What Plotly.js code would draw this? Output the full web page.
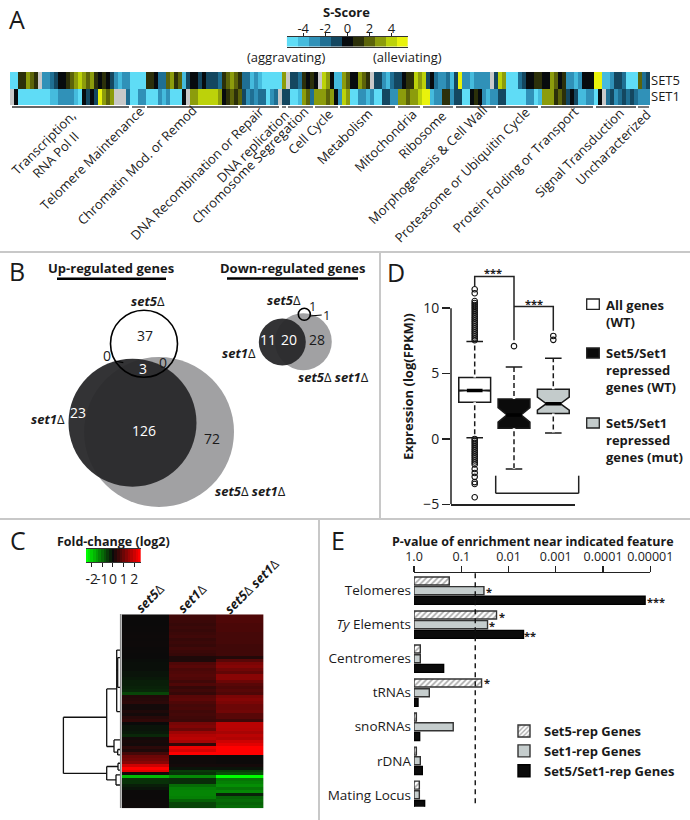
<!DOCTYPE html>
<html><head><meta charset="utf-8">
<script src="https://cdn.plot.ly/plotly-3.0.1.min.js"></script>
<style>html,body{margin:0;padding:0;background:#fff;overflow:hidden}#g{width:690px;height:820px}</style>
</head><body><div id="g"></div>
<script>
// ---------- Panel A data ----------
const set5Scores=[-5,-5,1,1,3,2,1,null,-3,-3,-2,-1,0,0,1,2,3,4,3,2,3,1,0,1,0,-1,-3,-4,-3,-3,-5,-5,-5,-5,1,1,0,-2,-2,2,3,1,2,-4,-1,0,0,-1,0,-1,-1,-1,-2,1,2,3,2,1,-2,-2,-4,-3,-4,-5,-5,-5,-5,-5,3,null,-1,-1,-2,1,0,1,0,null,4,3,0,-4,-4,
3,2,0,0,3,2,1,null,-1,-1,-3,-4,-2,-1,-1,0,1,1,4,3,4,-1,0,-2,-3,-3,-2,-4,-1,5,-3,-3,-4,-3,-3,-3,-3,null,-1,4,3,-5,-5,-5,-2,-1,0,0,1,1,0,0,3,2,0,1,-3,-3,-4,-3,0,0,0,5,5,-4,-4,-3,-1,-1,-2,-5,-5,-5,2,-2,-1];
const set1Scores=[null,0,-5,-5,-5,-5,-5,-5,-5,-5,-4,-4,-3,-3,-3,-3,-4,-5,0,-1,0,-1,5,3,2,3,null,null,null,-2,-5,-5,-3,-3,-5,-5,-5,-3,-4,-3,-5,-5,-5,0,null,3,3,4,4,4,4,4,3,0,1,2,1,2,-1,-3,-2,-3,-2,-2,-5,-3,-2,null,-1,-1,-5,-5,-4,3,2,-2,3,3,3,2,3,0,-3,
4,3,-5,-5,-3,-3,-4,-3,-5,-5,-1,-1,-3,-3,3,3,2,3,3,4,5,5,-4,-3,-3,1,1,-3,-1,-1,-5,-5,0,1,0,-3,-4,-3,-3,-1,-1,-5,-5,-5,-5,-5,-3,-3,-5,-4,3,3,3,1,2,1,-1,0,-1,-4,-4,-3,-3,-5,0,null,-2,-1,-3,-2,-1,-2,-1,-2,-3,-3,-3];
const scoreRows=['SET1','SET5'];
const scoreScaleValues=[-5,-4,-3,-2,-1,0,1,2,3,4,5];
const scoreTicks=[-4,-2,0,2,4];
const scoreColors=['#5fdcf6','#45bbdd','#3091b8','#1f6f93','#144760','#070b0e','#2c300a','#5c640a','#8c9c0c','#bcd20a','#e9f20c'];
const groupLabels=[['Transcription,<br>RNA Pol II',50,149],['Telomere Maintenance',92,158],['Chromatin Mod. or Remod',137,165],['DNA Recombination or Repair',197,173],['DNA replication',253,146],['Chromosome Segregation',250,165],['Cell Cycle',310,132],['Metabolism',344,137],['Mitochondria',385,141],['Ribosome',422,135],['Morphogenesis &amp; Cell Wall',427,165],['Proteasome or Ubiquitin Cycle',462,175],['Protein Folding or Transport',515,170],['Signal Transduction',579,153],['Uncharacterized',613,147]];
const groupBrackets=[[12,129],[132,145],[147,238],[240,279],[282,286],[288,313],[315,338],[340,395],[398,420],[423,453],[456,496],[498,538],[541,593],[596,636],[638,649]];

// ---------- Panel B data ----------
const vennX=[159,303.3], vennY=[432,341.7], vennSize=[150,57];
const set1X=[132.5,282.3], set1Y=[422.7,342], set1Size=[128,47];
const set5X=[144,304.3], set5Y=[343.7,314.3], set5Size=[67,12];

// ---------- Panel C data ----------
const fcSet5=[.02,.02,.01,.01,.02,.02,.03,.04,.03,.04,.04,.02,.02,.01,.01,-.03,-.05,-.05,-.05,-.1,-.1,-.15,-.2,-.2,-.25,-.3,-.6,.25,.3,.35,.1,.1,.2,.1,.3,.4,0,-.1,-.1,-.15,-.3,.1,.15,.1,.35,.2,.6,1,1.1,1.3,2,2.5,2.2,.1,-1.8,-.4,-.4,-.2,-.1,.02,.02,.02,.03,.04,.04];
const fcSet1=[.55,.55,.5,.45,.5,.45,.5,.55,.45,.5,.45,.55,.5,.45,.2,.2,.7,.8,.65,.7,.75,.7,.55,.7,.45,.55,.45,.8,.85,.7,.6,.65,.55,.6,.55,.5,1.1,1.2,1,1.5,1.7,1.8,1.6,.4,2.3,2.1,2.5,.05,.05,.05,.1,-.1,-.5,-.4,-1.3,-.35,-.35,-1,-1.2,-1.25,-1.25,-1.2,-.9,-.6,-.6];
const fcDouble=[.7,.7,.7,.65,.65,.65,.6,.6,.6,.6,.55,.55,.55,.55,.25,.8,1.15,1.25,1.05,.9,1.3,1.3,1,.8,.7,.8,.7,1.15,1.25,1.15,1,1,1.05,.8,.8,.55,1.8,1.8,1.75,1.6,1.8,1.7,2,2.2,2.5,2.5,2.5,.02,.02,.02,.1,-.1,-.5,-.7,-2.5,-1.1,-1.2,-1.35,-1.1,-1.3,-.25,-.9,-1,-.9,-1];
const fcColumns=['set5','set1','set5 set1'];
const fcScaleValues=[-2.5,-2.25,-2,-1.75,-1.5,-1.25,-1,-.75,-.5,-.25,0,.25,.5,.75,1,1.25,1.5,1.75,2,2.25,2.5];
const fcTicks=[-2,-1,0,1,2];
const dendroDist=[57.3,14,null,57.3,57.3,null,57.3,14,null,14,14,null,14,4,null,14,6.7,null,4,4,null,4,.7,null,4,.7,null,4,3,null,3,3,null,3,.7,null,3,.7,null,6.7,6.7,null,6.7,.7,null,6.7,3,null,3,3,null,3,.7,null,3,.7,null,14,14,null,14,2.7,null,14,4.7,null,2.7,2.7,null,2.7,.7,null,2.7,.7,null,4.7,4.7,null,4.7,.7,null,4.7,.7];
const dendroRow=[34,34,null,34,52.8,null,52.8,52.8,null,24.5,43.8,null,24.5,24.5,null,43.8,43.8,null,11.5,32.1,null,32.1,32.1,null,11.5,11.5,null,18.2,18.2,null,14,24,null,14,14,null,24,24,null,41.6,45.7,null,41.6,41.6,null,45.7,45.7,null,44.8,46.6,null,44.8,44.8,null,46.6,46.6,null,50.5,55,null,50.5,50.5,null,55,55,null,49.4,51.7,null,49.4,49.4,null,51.7,51.7,null,53.3,56.7,null,53.3,53.3,null,56.7,56.7];

// ---------- Panel D data ----------
const boxNames=['All genes (WT)','Set5/Set1 repressed genes (WT)','Set5/Set1 repressed genes (mut)'];
const boxPos=[0,1,2];
const boxQ1=[2.8,.82,1.94], boxMedian=[3.7,1.84,2.7], boxQ3=[4.7,3.06,3.8];
const boxLow=[.1,-2.3,.46], boxHigh=[7.45,5.5,6.17], boxNotch=[.04,.56,.5];
const boxFill=['#ffffff','#0b0b0b','#c3cbcb'];
const outliersAll=[7.55,7.7,7.85,8,8.15,8.3,8.45,8.6,8.75,8.9,9.05,9.2,9.35,9.5,9.65,9.8,9.95,10.1,10.25,10.4,10.55,11.15,11.45,0,-.15,-.3,-.45,-.6,-.75,-.9,-1.05,-1.2,-1.35,-1.5,-1.65,-1.8,-1.95,-2.3,-2.6,-2.9,-3.3,-3.45,-4.46];
const outliersWT=[7.1];
const outliersMut=[7.88,7.58];
const sigTopX=[0,0,1,1], sigTopY=[11.7,12.42,12.42,7.55];
const sigSideX=[1,2,2], sigSideY=[10.13,10.13,8.27];

// ---------- Panel E data ----------
const features=['Telomeres','<i>Ty</i> Elements','Centromeres','tRNAs','snoRNAs','rDNA','Mating Locus'];
const negLogSet5=[.746,1.746,.134,1.43,.05,.05,.113];
const negLogSet1=[1.48,1.556,.134,.324,.83,.134,.113];
const negLogBoth=[4.89,2.317,.627,.085,.12,.176,.225];
const pTickVals=[0,1,2,3,4,5];
const pTickText=['1.0','0.1','0.01','0.001','0.0001','0.00001'];
const pThreshold=1.296;

// ---------- helpers ----------
const F='"Open Sans", sans-serif', INK='#1a1a1a';
const X=p=>p/690, Y=p=>1-p/820;
const xd=(a,b)=>[a/690,b/690], yd=(top,bot)=>[1-bot/820,1-top/820];
const off={visible:false,fixedrange:true};
const ann=(text,x,y,size,o)=>Object.assign({text,x:X(x),y:Y(y),xref:'paper',yref:'paper',showarrow:false,xanchor:'center',yanchor:'middle',font:{family:F,size,color:INK}},o||{});
const line=(x0,y0,x1,y1,color,width)=>({type:'line',xref:'paper',yref:'paper',x0:X(x0),x1:X(x1),y0:Y(y0),y1:Y(y1),line:{color,width}});
const scoreScale=scoreColors.map((c,i)=>[i/10,c]);
const fcScale=[[0,'#00ff00'],[.5,'#0a0a0a'],[1,'#ff0000']];
const set5D='<b><i>set5</i></b>Δ', set1D='<b><i>set1</i></b>Δ';
const white=s=>({font:{family:F,size:s,color:'#fff'}});

// ---------- traces ----------
const traces=[
 {type:'heatmap',xaxis:'x',yaxis:'y',z:[set1Scores,set5Scores],y:scoreRows,zmin:-5,zmax:5,colorscale:scoreScale,showscale:false,xgap:0,showlegend:false},
 {type:'heatmap',xaxis:'x2',yaxis:'y2',z:[scoreScaleValues],x:scoreScaleValues,zmin:-5,zmax:5,colorscale:scoreScale,showscale:false,showlegend:false},
 {type:'scatter',mode:'markers',xaxis:'x3',yaxis:'y3',x:vennX,y:vennY,marker:{size:vennSize,opacity:1,color:'#a1a1a3',line:{width:0}},showlegend:false},
 {type:'scatter',mode:'markers',xaxis:'x3',yaxis:'y3',x:set1X,y:set1Y,marker:{size:set1Size,opacity:1,color:'rgba(40,40,42,0.95)',line:{width:0}},showlegend:false},
 {type:'scatter',mode:'markers',xaxis:'x3',yaxis:'y3',x:set5X,y:set5Y,marker:{size:set5Size,opacity:1,color:'rgba(0,0,0,0)',line:{width:1.6,color:'#000'}},showlegend:false}
];
boxPos.forEach((p,i)=>traces.push({type:'box',xaxis:'x4',yaxis:'y4',orientation:'v',x:[p],q1:[boxQ1[i]],median:[boxMedian[i]],q3:[boxQ3[i]],lowerfence:[boxLow[i]],upperfence:[boxHigh[i]],notchspan:[boxNotch[i]],notched:true,notchwidth:.28,width:.81,whiskerwidth:.52,boxpoints:false,fillcolor:boxFill[i],line:{color:'#1a1a1a',width:1.5},showlegend:false,name:boxNames[i]}));
// dashed look of the whiskers, thick medians, outliers, significance brackets
const wx=[],wy=[],mx=[],my=[];
boxPos.forEach((p,i)=>{wx.push(p,p,null,p,p,null);wy.push(boxQ3[i],boxHigh[i],null,boxQ1[i],boxLow[i],null);mx.push(p-.2,p+.2,null);my.push(boxMedian[i],boxMedian[i],null);});
traces.push({type:'scatter',mode:'lines',xaxis:'x4',yaxis:'y4',x:wx,y:wy,line:{color:'#fff',width:2.6,dash:'3px,5px'},showlegend:false});
traces.push({type:'scatter',mode:'lines',xaxis:'x4',yaxis:'y4',x:mx,y:my,line:{color:'#000',width:3.5},showlegend:false});
traces.push({type:'scatter',mode:'markers',xaxis:'x4',yaxis:'y4',x:outliersAll.map(()=>0).concat(outliersWT.map(()=>1),outliersMut.map(()=>2)),y:outliersAll.concat(outliersWT,outliersMut),marker:{symbol:'circle-open',size:5.5,opacity:1,color:'#111',line:{width:1.1,color:'#111'}},showlegend:false});
traces.push({type:'scatter',mode:'lines',xaxis:'x4',yaxis:'y4',x:sigTopX,y:sigTopY,line:{color:'#222',width:1.5},showlegend:false});
traces.push({type:'scatter',mode:'lines',xaxis:'x4',yaxis:'y4',x:sigSideX,y:sigSideY,line:{color:'#222',width:1.5},showlegend:false});
// panel C
traces.push({type:'heatmap',xaxis:'x5',yaxis:'y5',z:[fcScaleValues],x:fcScaleValues,zmin:-2.5,zmax:2.5,colorscale:fcScale,showscale:false});
traces.push({type:'heatmap',xaxis:'x6',yaxis:'y6',z:fcSet5.map((v,i)=>[v,fcSet1[i],fcDouble[i]]),zmin:-2.5,zmax:2.5,colorscale:fcScale,showscale:false});
traces.push({type:'scatter',mode:'lines',xaxis:'x7',yaxis:'y7',x:dendroDist,y:dendroRow,connectgaps:false,line:{color:'#111',width:1.3},showlegend:false});
// panel E
const barLine=c=>({color:c,width:1.4});
traces.push({type:'bar',orientation:'h',xaxis:'x8',yaxis:'y8',name:'Set5-rep Genes',y:features,x:negLogSet5,marker:{color:'#fff',pattern:{shape:'/',bgcolor:'#ffffff',fgcolor:'#a8a8a8',size:4,solidity:.4},line:barLine('#333')}});
traces.push({type:'bar',orientation:'h',xaxis:'x8',yaxis:'y8',name:'Set1-rep Genes',y:features,x:negLogSet1,marker:{color:'#c5cdcd',line:barLine('#333')}});
traces.push({type:'bar',orientation:'h',xaxis:'x8',yaxis:'y8',name:'Set5/Set1-rep Genes',y:features,x:negLogBoth,marker:{color:'#0b0b0b',line:barLine('#000')}});

// ---------- shapes ----------
const shapes=[
 {type:'rect',xref:'paper',yref:'paper',layer:'below',x0:X(10),x1:X(650),y0:Y(105),y1:Y(72),fillcolor:'#c9c9c9',line:{width:0}},
 line(0,252,690,252,'#c8c8c8',2),line(380,252,380,519,'#c8c8c8',2),line(0,519,690,519,'#c8c8c8',2),line(319,519,319,820,'#c8c8c8',2),
 line(57,278.7,166,278.7,'#000',2.6),line(227,278.5,358,278.5,'#000',2.6),
 line(115,361,123.3,362.7,'#000',1.2),line(310,316,321.7,315,'#000',1.2),
 line(495.7,475.7,495.7,493.3,'#222',1.5),line(495.7,493.3,578.7,493.3,'#222',1.5),line(578.7,475.7,578.7,493.3,'#222',1.5),
 line(120.7,614,120.7,808,'#8c8c8c',1.6),
 {type:'line',xref:'paper',yref:'y4',x0:X(451),x1:X(451),y0:-5,y1:10,line:{color:'#222',width:1.5}},
 {type:'rect',xref:'paper',yref:'paper',x0:X(586.7),x1:X(599.3),y0:Y(309.3),y1:Y(299),fillcolor:'#fff',line:{color:'#222',width:1.3}},
 {type:'rect',xref:'paper',yref:'paper',x0:X(586.7),x1:X(599.3),y0:Y(358),y1:Y(348),fillcolor:'#0b0b0b',line:{color:'#222',width:1.3}},
 {type:'rect',xref:'paper',yref:'paper',x0:X(586.7),x1:X(599.3),y0:Y(428),y1:Y(418),fillcolor:'#c3cbcb',line:{color:'#222',width:1.3}},
 {type:'line',xref:'x8',yref:'paper',x0:pThreshold,x1:pThreshold,y0:Y(573.3),y1:Y(806.7),line:{color:'#111',width:1.4,dash:'5px,4px'}}
];
groupBrackets.forEach(b=>shapes.push(line(b[0],107,b[1],107,'#333',1.3)));

// ---------- annotations ----------
const left={xanchor:'left',align:'left'};
const annotations=[
 ann('A',17,19,25),ann('B',17,271,25),ann('C',18,540,25),ann('D',396,272,25),ann('E',338,540,25),
 ann('<b>S-Score</b>',347,12,13),ann('(aggravating)',286,57,13),ann('(alleviating)',407.7,57,13),
 ann('<b>Up-regulated genes</b>',111,268,13),ann('<b>Down-regulated genes</b>',292.7,268,13),
 ann(set5D,148,301,13),ann('37',145,336,14),ann('3',143,368.3,14,white(14)),ann('0',106.7,356,14),ann('0',163.3,362.3,14),
 ann('23',78.3,412.7,14,white(14)),ann('126',144,430,14,white(14)),ann('72',212.3,438.3,14),
 ann(set1D,47.7,419,13),ann(set5D+' '+set1D,250.7,491,13),
 ann(set5D,284.3,300,13),ann('1',312.3,306,13),ann('1',326.7,315,13),
 ann('11',267.7,340,14,white(14)),ann('20',289.3,340,14,white(14)),ann('28',317.3,340,14),
 ann(set1D,239,353.3,13),ann(set5D+' '+set1D,333.7,377.3,13),
 ann('<b>***</b>',492.7,272,11),ann('<b>***</b>',534.3,303,11),
 ann('<b>All genes<br>(WT)</b>',604,313,13,left),ann('<b>Set5/Set1<br>repressed<br>genes (WT)</b>',604,370,13,left),ann('<b>Set5/Set1<br>repressed<br>genes (mut)</b>',604,440,13,left),
 ann('<b>Fold-change (log2)</b>',113.3,541,12.5),
 ann(set5D,150,598,13,{textangle:-45}),ann(set1D,192.3,598,13,{textangle:-45}),ann(set5D+' '+set1D,251.7,585.7,13,{textangle:-45}),
 ann('<b>P-value of enrichment near indicated feature</b>',533.3,541.5,12.5),
 ann('<b>*</b>',489.3,591,11),ann('<b>***</b>',655.7,601,11),ann('<b>*</b>',501.7,616,11),ann('<b>*</b>',492.3,625,11),ann('<b>**</b>',530,635,11),ann('<b>*</b>',487,682.5,11)
];
groupLabels.forEach(g=>annotations.push(ann(g[0],g[1],g[2],13,{textangle:-45})));

// ---------- layout ----------
const layout={
 width:690,height:820,margin:{l:0,r:0,t:0,b:0},paper_bgcolor:'#fff',plot_bgcolor:'rgba(0,0,0,0)',font:{family:F,color:INK},
 barmode:'group',bargap:.147,bargroupgap:.17,boxmode:'overlay',shapes,annotations,
 showlegend:true,
 legend:{x:X(504),y:Y(716),xanchor:'left',yanchor:'top',bgcolor:'rgba(0,0,0,0)',borderwidth:0,traceorder:'normal',itemwidth:30,font:{family:F,size:13,weight:700,color:INK}},
 xaxis:Object.assign({},off,{domain:xd(10,650),range:[-.5,159.5]}),
 yaxis:{domain:yd(72,105),anchor:'x',side:'right',type:'category',showline:false,showgrid:false,zeroline:false,ticks:'',ticklen:0,tickfont:{family:F,size:13,color:INK},fixedrange:true,range:[-.5,1.5]},
 xaxis2:{domain:xd(286.7,408),anchor:'y2',side:'top',range:[-5.5,5.5],tickvals:scoreTicks,ticktext:scoreTicks.map(String),ticks:'outside',ticklen:3,tickwidth:1,tickcolor:'#222',tickangle:0,ticklabelstandoff:-5,tickfont:{family:F,size:13,color:INK},showline:true,mirror:true,linecolor:'#333',linewidth:1,showgrid:false,zeroline:false,fixedrange:true},
 yaxis2:Object.assign({},off,{domain:yd(36.7,46.7),anchor:'x2'}),
 xaxis3:Object.assign({},off,{domain:xd(0,380),range:[0,380],anchor:'y3'}),
 yaxis3:Object.assign({},off,{domain:yd(252,519),range:[519,252],anchor:'x3'}),
 xaxis4:{domain:xd(451,575),range:[-.603,2.552],anchor:'y4',showline:true,linecolor:'#222',linewidth:1.5,ticks:'',showticklabels:false,showgrid:false,zeroline:false,fixedrange:true},
 yaxis4:{domain:yd(269,504.3),range:[-5,13],anchor:'x4',tickvals:[-5,0,5,10],ticktext:['−5','0','5','10'],ticks:'outside',ticklen:8,tickwidth:1.5,tickcolor:'#222',tickfont:{family:F,size:14,color:INK},showline:false,showgrid:false,zeroline:false,fixedrange:true,title:{text:'<b>Expression (log(FPKM))</b>',font:{family:F,size:13,color:INK},standoff:6}},
 xaxis5:{domain:xd(86,140.7),range:[-2.53,2.6],anchor:'y5',tickvals:fcTicks,ticktext:fcTicks.map(String),ticks:'outside',ticklen:4,tickwidth:1,tickcolor:'#222',tickangle:0,tickfont:{family:F,size:14,color:INK},showline:true,mirror:true,linecolor:'#333',linewidth:1,showgrid:false,zeroline:false,fixedrange:true},
 yaxis5:Object.assign({},off,{domain:yd(549,562.3),anchor:'x5'}),
 xaxis6:Object.assign({},off,{domain:xd(121.7,263.5),range:[-.5,2.5],anchor:'y6'}),
 yaxis6:Object.assign({},off,{domain:yd(614.3,808.3),range:[64.5,-.5],anchor:'x6'}),
 xaxis7:Object.assign({},off,{domain:xd(60.7,120.7),range:[60,0],anchor:'y7'}),
 yaxis7:Object.assign({},off,{domain:yd(614.3,808.3),range:[64.5,-.5],anchor:'x7'}),
 xaxis8:{domain:xd(414,650.3),range:[0,5],anchor:'y8',side:'top',tickvals:pTickVals,ticktext:pTickText,ticks:'outside',ticklen:6,tickwidth:1.3,tickcolor:'#222',tickangle:0,tickfont:{family:F,size:12.5,color:INK},showline:true,linecolor:'#222',linewidth:1.3,showgrid:false,zeroline:false,fixedrange:true},
 yaxis8:{domain:yd(573.3,806.7),range:[6.35,-.51],anchor:'x8',type:'category',categoryarray:features,ticks:'',ticklabelstandoff:2,tickfont:{family:F,size:13.5,color:INK},showline:false,showgrid:false,zeroline:false,fixedrange:true}
};
Plotly.newPlot('g',traces,layout,{staticPlot:true,displayModeBar:false});
</script></body></html>
